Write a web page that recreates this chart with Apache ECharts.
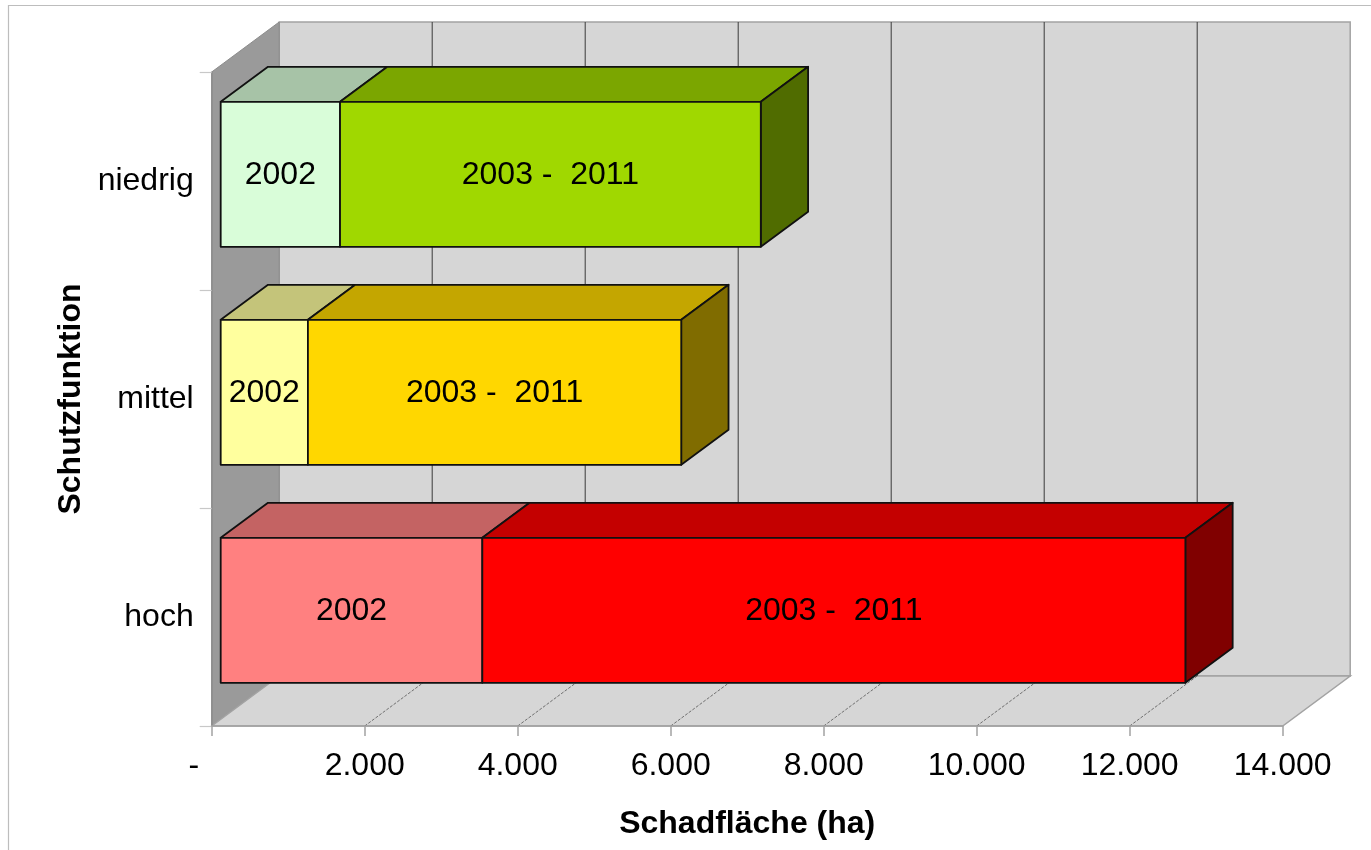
<!DOCTYPE html>
<html><head><meta charset="utf-8">
<script src="https://cdn.jsdelivr.net/npm/echarts@6/dist/echarts.min.js"></script>
<style>html,body{margin:0;padding:0;background:#fff}#c{width:1371px;height:850px}</style>
</head><body><div id="c"></div>
<script>
// ---- data ----
const categories = ['hoch', 'mittel', 'niedrig'];
const segmentLabels = ['2002', '2003 -  2011'];
const values2002 = [3420, 1140, 1560];
const values2003to2011 = [9190, 4880, 5500];
const xTickValues = [0, 2000, 4000, 6000, 8000, 10000, 12000, 14000];
const xAxisTitle = 'Schadfläche (ha)';
const yAxisTitle = 'Schutzfunktion';

// ---- styles ----
const front2002 = ['#ff8080', '#ffff9e', '#d9fdd9'];
const front2003 = ['#ff0000', '#ffd700', '#a0d800'];
const FONT = "'Liberation Sans', Arial, sans-serif";
const FS = 32;
const DEPTH_DX = 67.5, DEPTH_DY = -50;   // full floor depth in px
const FRONT_DX = 9, FRONT_DY = -6.7;     // bar front face offset
const BAR_DX = 47.3, BAR_DY = -35;       // bar depth
const BAR_FRAC = 0.665;

function shade(hex, f) {
  const n = parseInt(hex.slice(1), 16);
  const r = Math.round(((n >> 16) & 255) * f), g = Math.round(((n >> 8) & 255) * f), b = Math.round((n & 255) * f);
  return 'rgb(' + r + ',' + g + ',' + b + ')';
}

const xMin = xTickValues[0], xMax = xTickValues[xTickValues.length - 1];

function renderWalls(params, api) {
  const bw = api.size([0, 1])[1];
  const yTop = api.coord([xMin, categories.length - 1])[1] - bw / 2;
  const yBot = api.coord([xMin, 0])[1] + bw / 2;
  const xL = api.coord([xMin, 0])[0], xR = api.coord([xMax, 0])[0];
  const edge = '#a3a3a3';
  const ch = [];
  ch.push({ type: 'rect', shape: { x: xL + DEPTH_DX, y: yTop + DEPTH_DY, width: xR - xL, height: yBot - yTop },
    style: { fill: '#d6d6d6', stroke: edge, lineWidth: 1.5 } });
  ch.push({ type: 'polygon', shape: { points: [[xL, yTop], [xL + DEPTH_DX, yTop + DEPTH_DY], [xL + DEPTH_DX, yBot + DEPTH_DY], [xL, yBot]] },
    style: { fill: '#9a9a9a', stroke: '#8c8c8c', lineWidth: 1 } });
  ch.push({ type: 'polygon', shape: { points: [[xL, yBot], [xL + DEPTH_DX, yBot + DEPTH_DY], [xR + DEPTH_DX, yBot + DEPTH_DY], [xR, yBot]] },
    style: { fill: '#d6d6d6', stroke: edge, lineWidth: 1.5 } });
  for (let i = 1; i < xTickValues.length - 1; i++) {
    const xt = api.coord([xTickValues[i], 0])[0];
    ch.push({ type: 'line', shape: { x1: xt + DEPTH_DX, y1: yTop + DEPTH_DY, x2: xt + DEPTH_DX, y2: yBot + DEPTH_DY },
      style: { stroke: '#3a3a3a', lineWidth: 1 } });
    ch.push({ type: 'line', shape: { x1: xt, y1: yBot, x2: xt + DEPTH_DX, y2: yBot + DEPTH_DY },
      style: { stroke: '#555', lineWidth: 0.8, lineDash: [3, 1.5] } });
  }
  return { type: 'group', children: ch };
}

function makeBarRender(fronts, label, withSide) {
  return function (params, api) {
    const cat = api.value(0), start = api.value(1), end = api.value(2);
    const c0 = api.coord([start, cat]), c1 = api.coord([end, cat]);
    const bw = api.size([0, 1])[1];
    const h = bw * BAR_FRAC;
    const x0 = c0[0] + FRONT_DX, x1 = c1[0] + FRONT_DX;
    const yc = c0[1] + FRONT_DY;
    const yt = yc - h / 2, yb = yc + h / 2;
    const col = fronts[params.dataIndex];
    const st = { stroke: '#111', lineWidth: 1.8, lineJoin: 'round' };
    const ch = [];
    ch.push({ type: 'polygon', shape: { points: [[x0, yt], [x1, yt], [x1 + BAR_DX, yt + BAR_DY], [x0 + BAR_DX, yt + BAR_DY]] },
      style: Object.assign({ fill: shade(col, 0.77) }, st) });
    if (withSide) {
      ch.push({ type: 'polygon', shape: { points: [[x1, yt], [x1 + BAR_DX, yt + BAR_DY], [x1 + BAR_DX, yb + BAR_DY], [x1, yb]] },
        style: Object.assign({ fill: shade(col, 0.5) }, st) });
    }
    ch.push({ type: 'rect', shape: { x: x0, y: yt, width: x1 - x0, height: h },
      style: Object.assign({ fill: col }, st) });
    ch.push({ type: 'text', style: { text: label, x: (x0 + x1) / 2, y: yc + 1, align: 'center', verticalAlign: 'middle',
      fill: '#000', font: FS + 'px ' + FONT } });
    return { type: 'group', children: ch };
  };
}

const data2002 = categories.map((c, i) => [i, 0, values2002[i]]);
const data2003 = categories.map((c, i) => [i, values2002[i], values2002[i] + values2003to2011[i]]);

const chart = echarts.init(document.getElementById('c'), null, { renderer: 'canvas' });
chart.setOption({
  animation: false,
  backgroundColor: '#fff',
  textStyle: { fontFamily: FONT },
  graphic: [{ type: 'rect', shape: { x: 8.5, y: 5.5, width: 1400, height: 900 }, style: { fill: 'none', stroke: '#bdbdbd', lineWidth: 1.2 }, silent: true }],
  grid: { left: 211.7, right: 88.3, top: 72, bottom: 124 },
  xAxis: {
    type: 'value', min: xMin, max: xMax, interval: 2000, z: 10,
    axisLine: { show: true, lineStyle: { color: '#a3a3a3', width: 1.5 } },
    axisTick: { show: true, length: 10, lineStyle: { color: '#a3a3a3', width: 1.5 } },
    splitLine: { show: false },
    axisLabel: { fontSize: FS, color: '#000', fontFamily: FONT, margin: 24,
      formatter: v => v === 0 ? '-    ' : String(v).replace(/\B(?=(\d{3})+(?!\d))/g, '.') },
    name: xAxisTitle, nameLocation: 'middle', nameGap: 82,
    nameTextStyle: { fontSize: FS, fontWeight: 'bold', color: '#000', fontFamily: FONT }
  },
  yAxis: {
    type: 'category', data: categories, z: 10,
    axisLine: { show: true, lineStyle: { color: '#8c8c8c', width: 1.5 } },
    axisTick: { show: true, length: 12, lineStyle: { color: '#c8c8c8', width: 1.2 } },
    axisLabel: { fontSize: FS, color: '#000', fontFamily: FONT, margin: 18 },
    name: yAxisTitle, nameLocation: 'middle', nameGap: 124,
    nameTextStyle: { fontSize: FS, fontWeight: 'bold', color: '#000', fontFamily: FONT }
  },
  series: [
    { type: 'custom', name: 'walls', z: 1, silent: true, renderItem: renderWalls, data: [[0, 0, 0]], encode: { x: 1, y: 0 } },
    { type: 'custom', name: segmentLabels[0], z: 3, renderItem: makeBarRender(front2002, segmentLabels[0], false), data: data2002, encode: { x: [1, 2], y: 0 } },
    { type: 'custom', name: segmentLabels[1], z: 4, renderItem: makeBarRender(front2003, segmentLabels[1], true), data: data2003, encode: { x: [1, 2], y: 0 } }
  ]
});
</script></body></html>
